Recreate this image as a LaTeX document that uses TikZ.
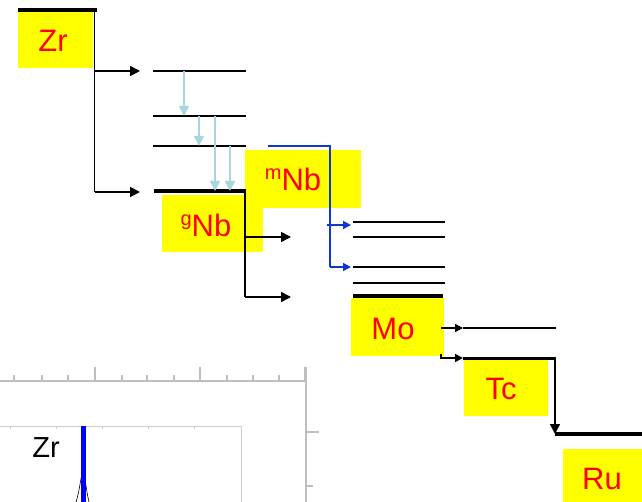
\documentclass[tikz,border=0pt]{standalone}
\usepackage{fontspec}
\setmainfont{Liberation Sans}
\usetikzlibrary{arrows.meta}
\definecolor{lblue}{RGB}{168,214,222}
\definecolor{dblue}{RGB}{16,56,208}
\definecolor{yel}{RGB}{255,255,0}
\definecolor{axgray}{RGB}{190,190,190}
\definecolor{frgray}{RGB}{205,205,205}
\newcommand{\supx}[1]{\raisebox{11pt}{\fontsize{20}{20}\selectfont #1}}
\tikzset{
  ybox/.style={fill=yel, draw=none, inner sep=0pt, anchor=north west},
  lbl/.style={text=red, font=\fontsize{31}{31}\selectfont, inner sep=0pt, anchor=base},
  lev/.style={line width=2pt, black},
  glev/.style={line width=3.5pt, black},
  conn/.style={line width=1.6pt, black},
  tip/.style={-{Triangle[length=10pt,width=10pt]}},
  stip/.style={-{Triangle[length=8pt,width=8pt]}},
  gam/.style={line width=1.8pt, lblue, -{Triangle[length=10pt,width=10pt]}},
  bconn/.style={line width=1.6pt, dblue},
  axis/.style={line width=2pt, axgray},
  frame/.style={line width=1pt, frgray}
}
\begin{document}
\begin{tikzpicture}[x=1pt,y=-1pt]
\useasboundingbox (0,0) rectangle (642,502);

% ---------- plot fragment (lower left) ----------
\draw[axis] (0,381) -- (306,381);
\draw[axis] (306,367) -- (306,502);
\foreach \tx in {95,200,305} \draw[axis] (\tx,367) -- (\tx,381);
\foreach \tx in {14,42,68,122,147,174,227,253,279} \draw[axis] (\tx,375) -- (\tx,381);
\draw[axis] (306,432) -- (319,432);
\draw[axis] (306,486) -- (313,486);
\draw[frame] (0,426) -- (241,426) -- (241,502);
\foreach \tx in {10,56,102,148,194} \draw[frame] (\tx,426) -- (\tx,429);
\draw[black, line width=0.6pt] (76,502) .. controls (80,490) and (81,473) .. (83,473) .. controls (85,473) and (86,490) .. (89,502);
\draw[line width=5pt, blue] (83,426) -- (83,502);
\node[inner sep=0pt, anchor=base, font=\fontsize{29}{29}\selectfont] (pzr) at (46,457) {Zr};

% ---------- yellow boxes ----------
\node[ybox, minimum width=75pt, minimum height=57pt] (bzr) at (18,11) {};
\node[ybox, minimum width=101pt, minimum height=57pt] (bgnb) at (162,195) {};
\node[ybox, minimum width=116pt, minimum height=58pt] (bmnb) at (245,150) {};
\node[ybox, minimum width=93pt, minimum height=58pt] (bmo) at (351,298) {};
\node[ybox, minimum width=84pt, minimum height=57pt] (btc) at (464,359) {};
\node[ybox, minimum width=79pt, minimum height=53pt] (bru) at (563,449) {};

\node[lbl] (tzr) at (53,52) {Zr};
\node[lbl] (tgnb) at (206,237) {\supx{g}Nb};
\node[lbl] (tmnb) at (293,191) {\supx{m}Nb};
\node[lbl] (tmo) at (393,339) {Mo};
\node[lbl] (ttc) at (501,399) {Tc};
\node[lbl] (tru) at (602,489) {Ru};

% ---------- coordinates ----------
\coordinate (zrL) at (18,10);
\coordinate (zrR) at (97,10);
\coordinate (zrV) at (94.5,10);
\coordinate (zrA) at (94.5,71);
\coordinate (zrB) at (94.5,192);
\coordinate (nbA) at (140,71);
\coordinate (nbB) at (140,192);

\coordinate (n1L) at (153,71);  \coordinate (n1R) at (246,71);
\coordinate (n2L) at (153,116); \coordinate (n2R) at (246,116);
\coordinate (n3L) at (153,146); \coordinate (n3R) at (246,146);
\coordinate (ngL) at (154,191); \coordinate (ngR) at (246,191);

\coordinate (gV) at (245,191);
\coordinate (gA) at (245,237);
\coordinate (gB) at (245,297);
\coordinate (gAe) at (291,237);
\coordinate (gBe) at (291,297);

\coordinate (mS) at (268,146);
\coordinate (mC) at (330,146);
\coordinate (mA) at (327,225);
\coordinate (mB) at (330,267);
\coordinate (mAe) at (351,225);
\coordinate (mBe) at (351,267);

\coordinate (o1L) at (353,222); \coordinate (o1R) at (445,222);
\coordinate (o2L) at (353,237); \coordinate (o2R) at (445,237);
\coordinate (o3L) at (353,267); \coordinate (o3R) at (445,267);
\coordinate (o4L) at (353,283); \coordinate (o4R) at (445,283);
\coordinate (ogL) at (353,296); \coordinate (ogR) at (443,296);

\coordinate (moA) at (441,328);
\coordinate (moB) at (441,354);
\coordinate (tcxL) at (463,328); \coordinate (tcxR) at (556,328);
\coordinate (tcL) at (463,358); \coordinate (tcR) at (556,358);
\coordinate (tcV) at (555,358);
\coordinate (ruL) at (555,434); \coordinate (ruR) at (642,434);

% ---------- Zr ----------
\draw[glev] (zrL) -- (zrR);
\draw[conn] (zrV) -- (zrB);
\draw[conn, tip] (zrA) -- (nbA);
\draw[conn, tip] (zrB) -- (nbB);

% ---------- Nb levels ----------
\draw[lev] (n1L) -- (n1R);
\draw[lev] (n2L) -- (n2R);
\draw[lev] (n3L) -- (n3R);
\draw[glev] (ngL) -- (ngR);

% gamma transitions
\draw[gam] (184,71) -- (184,116);
\draw[gam] (199,116) -- (199,146);
\draw[gam] (215,116) -- (215,191);
\draw[gam] (230,146) -- (230,191);

% gNb decay
\draw[conn] (gV) -- (gB);
\draw[conn, tip] (gA) -- (gAe);
\draw[conn, tip] (gB) -- (gBe);

% mNb decay
\draw[bconn] (mS) -- (mC) -- (mB);
\draw[bconn, stip] (mA) -- (mAe);
\draw[bconn, stip] (mB) -- (mBe);

% ---------- Mo levels ----------
\draw[lev] (o1L) -- (o1R);
\draw[lev] (o2L) -- (o2R);
\draw[lev] (o3L) -- (o3R);
\draw[lev] (o4L) -- (o4R);
\draw[glev] (ogL) -- (ogR);

\draw[conn, stip] (moA) -- (tcxL);
\draw[lev] (tcxL) -- (tcxR);
\draw[conn, stip] (moB) |- (tcL);
\draw[line width=3pt] (tcL) -- (tcR);
\draw[conn, tip] (tcV) -- (ruL);
\draw[line width=4pt] (ruL) -- (ruR);
\end{tikzpicture}
\end{document}
